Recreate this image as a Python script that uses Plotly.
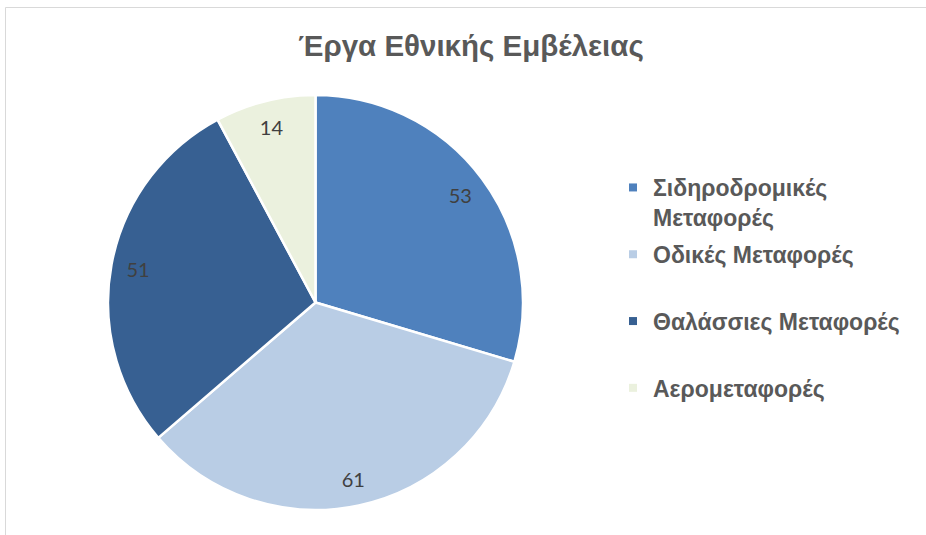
import plotly.graph_objects as go

# ---- data ----
title_text = "Έργα Εθνικής Εμβέλειας"
categories = ["Σιδηροδρομικές Μεταφορές", "Οδικές Μεταφορές",
              "Θαλάσσιες Μεταφορές", "Αερομεταφορές"]
legend_names = ["Σιδηροδρομικές<br>Μεταφορές", "Οδικές Μεταφορές<br>\u00a0",
                "Θαλάσσιες Μεταφορές<br>\u00a0", "Αερομεταφορές<br>\u00a0"]
values = [53, 61, 51, 14]
colors = ["#4F81BD", "#B9CDE5", "#376092", "#EBF1DE"]

W, H = 926, 535
domain = dict(x=[108 / W, 523 / W], y=[1 - 510 / H, 1 - 95 / H])

fig = go.Figure()

# main pie
fig.add_trace(go.Pie(
    labels=categories, values=values, sort=False, direction="clockwise",
    rotation=0, marker=dict(colors=colors, line=dict(color="white", width=2.5)),
    textinfo="none", showlegend=False, domain=domain, hoverinfo="label+value",
))

# transparent ring carrying the value labels near the rim
fig.add_trace(go.Pie(
    labels=categories, values=values, sort=False, direction="clockwise",
    rotation=0, hole=0.74,
    marker=dict(colors=["rgba(0,0,0,0)"] * len(values), line=dict(width=0)),
    textinfo="value", textposition="inside", insidetextorientation="horizontal",
    textfont=dict(family="Lato", size=20, color="#404040"),
    showlegend=False, domain=domain, hoverinfo="skip",
))

# legend entries
for name, col in zip(legend_names, colors):
    fig.add_trace(go.Scatter(
        x=[None], y=[None], mode="markers", name=name, legendgroup=name,
        marker=dict(symbol="square", size=8, color=col),
    ))

fig.update_layout(
    width=W, height=H,
    margin=dict(l=0, r=0, t=0, b=0),
    paper_bgcolor="white", plot_bgcolor="white",
    title=dict(text=title_text, x=471 / W, xanchor="center",
               y=1 - 46 / H, yanchor="middle",
               font=dict(family="Liberation Sans", size=29.5, color="#595959", weight=700)),
    xaxis=dict(visible=False), yaxis=dict(visible=False),
    legend=dict(x=613 / W, xanchor="left", y=1 - 166 / H, yanchor="top",
                valign="top", tracegroupgap=4,
                font=dict(family="Liberation Sans", size=23, color="#595959", weight=700),
                bgcolor="rgba(0,0,0,0)"),
    shapes=[dict(type="rect", xref="paper", yref="paper",
                 x0=5.5 / W, x1=1.2, y0=-0.2, y1=1 - 7.5 / H,
                 line=dict(color="#D9D9D9", width=1), layer="below")],
)

fig.write_html("out.html", config={"displayModeBar": False},
               post_script="document.body.style.margin='0';")
